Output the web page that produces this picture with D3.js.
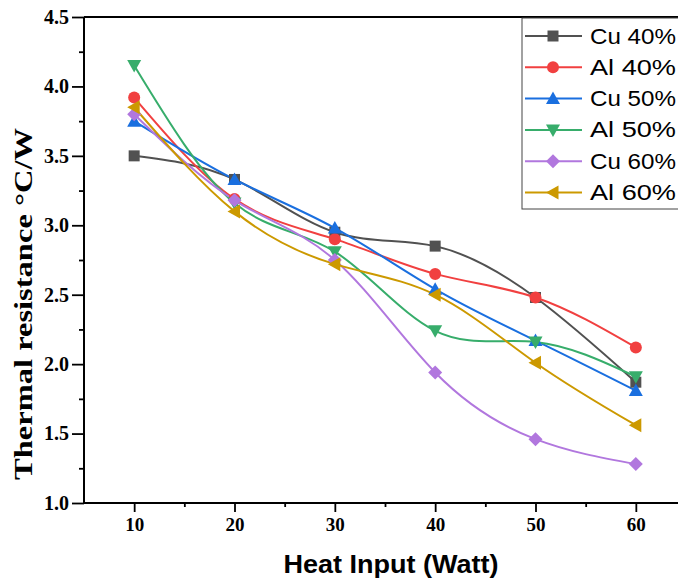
<!DOCTYPE html>
<html><head><meta charset="utf-8">
<script src="https://cdn.jsdelivr.net/npm/d3@7"></script>
<style>body{margin:0;background:#fff}svg{display:block}</style>
</head><body>
<svg id="c" width="678" height="585"></svg>
<script>
const heatInput = [10, 20, 30, 40, 50, 60];
const seriesNames = ["Cu 40%", "Al 40%", "Cu 50%", "Al 50%", "Cu 60%", "Al 60%"];
const cu40 = [3.50, 3.33, 2.95, 2.85, 2.48, 1.87];
const al40 = [3.92, 3.19, 2.90, 2.65, 2.48, 2.12];
const cu50 = [3.75, 3.33, 2.98, 2.54, 2.17, 1.81];
const al50 = [4.15, 3.16, 2.81, 2.24, 2.16, 1.91];
const cu60 = [3.80, 3.18, 2.75, 1.94, 1.46, 1.28];
const al60 = [3.85, 3.10, 2.72, 2.50, 2.01, 1.56];
const xTicks = [10, 20, 30, 40, 50, 60];
const yTicks = [1.0, 1.5, 2.0, 2.5, 3.0, 3.5, 4.0, 4.5];

const seriesValues = [cu40, al40, cu50, al50, cu60, al60];
const colors = ["#515151", "#F14040", "#1A6FDF", "#37AD6B", "#B177DE", "#CC9900"];
const symbols = ["square", "circle", "up", "down", "diamond", "left"];

const svg = d3.select("#c");
const x = d3.scaleLinear().domain([5, 65]).range([84, 686]);
const y = d3.scaleLinear().domain([1, 4.5]).range([503, 17]);

// Axes
const gx = svg.append("g").attr("transform", "translate(0,503)");
gx.call(d3.axisBottom(x).tickValues(d3.range(15, 65, 10)).tickSize(4).tickFormat(""));
gx.call(g => g.select(".domain").remove());
const gx2 = svg.append("g").attr("transform", "translate(0,503)")
  .call(d3.axisBottom(x).tickValues(xTicks).tickSize(9).tickPadding(6).tickFormat(d3.format("d")));
gx2.selectAll("text").attr("font-family", "'Liberation Serif','Times New Roman',serif")
  .attr("font-weight", "bold").attr("font-size", 19).attr("fill", "#000");

const gy = svg.append("g").attr("transform", "translate(84,0)");
gy.call(d3.axisLeft(y).tickValues(d3.range(1.25, 4.5, 0.5)).tickSize(5).tickFormat(""));
gy.call(g => g.select(".domain").remove());
const gy2 = svg.append("g").attr("transform", "translate(84,0)")
  .call(d3.axisLeft(y).tickValues(yTicks).tickSize(12).tickPadding(3).tickFormat(d3.format(".1f")));
gy2.selectAll("text").attr("font-family", "'Liberation Serif','Times New Roman',serif")
  .attr("font-weight", "bold").attr("font-size", 20).attr("fill", "#000");

svg.selectAll(".tick line").attr("stroke", "#000").attr("stroke-width", 1.8);
svg.selectAll(".domain").attr("stroke", "#000").attr("stroke-width", 2);
gx2.select(".domain").attr("d", "M84,0H686");
gy2.select(".domain").attr("d", "M0,17V503");
// top border
svg.append("line").attr("x1", 84).attr("x2", 686).attr("y1", y(4.5)).attr("y2", y(4.5))
  .attr("stroke", "#000").attr("stroke-width", 2);

// titles
svg.append("text").attr("x", 391).attr("y", 573).attr("text-anchor", "middle")
  .attr("font-family", "'Liberation Sans',Arial,sans-serif").attr("font-weight", "bold")
  .attr("font-size", 25).attr("textLength", 215).attr("lengthAdjust", "spacingAndGlyphs")
  .text("Heat Input (Watt)");
svg.append("text").attr("transform", "translate(32,304) rotate(-90)").attr("text-anchor", "middle")
  .attr("font-family", "'Liberation Serif','Times New Roman',serif").attr("font-weight", "bold")
  .attr("font-size", 26).attr("textLength", 352).attr("lengthAdjust", "spacingAndGlyphs")
  .text("Thermal resistance °C/W");

function symPath(kind, cx, cy) {
  const s = 6;
  switch (kind) {
    case "square": return `M${cx-5.5},${cy-5.5}h11v11h-11z`;
    case "circle": return `M${cx-s},${cy}a${s},${s} 0 1,0 ${2*s},0a${s},${s} 0 1,0 ${-2*s},0z`;
    case "up": return `M${cx},${cy-7}L${cx+7},${cy+5.5}L${cx-7},${cy+5.5}z`;
    case "down": return `M${cx},${cy+7}L${cx+7},${cy-5.5}L${cx-7},${cy-5.5}z`;
    case "diamond": return `M${cx},${cy-7}L${cx+7},${cy}L${cx},${cy+7}L${cx-7},${cy}z`;
    case "left": return `M${cx-7},${cy}L${cx+5.5},${cy-7}L${cx+5.5},${cy+7}z`;
  }
}

const line = d3.line().x(d => x(d[0])).y(d => y(d[1])).curve(d3.curveNatural);
const plot = svg.append("g");
seriesValues.forEach((vals, i) => {
  const pts = heatInput.map((h, j) => [h, vals[j]]);
  plot.append("path").attr("d", line(pts)).attr("fill", "none")
    .attr("stroke", colors[i]).attr("stroke-width", 2);
});
seriesValues.forEach((vals, i) => {
  heatInput.forEach((h, j) => {
    plot.append("path").attr("d", symPath(symbols[i], x(h), y(vals[j]))).attr("fill", colors[i]);
  });
});

// legend
const lg = svg.append("g");
lg.append("rect").attr("x", 522).attr("y", 18).attr("width", 170).attr("height", 191)
  .attr("fill", "#fff").attr("stroke", "#444").attr("stroke-width", 1);
seriesNames.forEach((name, i) => {
  const cy = 36 + i * 31.3;
  lg.append("line").attr("x1", 525).attr("x2", 582).attr("y1", cy).attr("y2", cy)
    .attr("stroke", colors[i]).attr("stroke-width", 2);
  lg.append("path").attr("d", symPath(symbols[i], 553, cy)).attr("fill", colors[i]);
  lg.append("text").attr("x", 590).attr("y", cy + 7.5)
    .attr("font-family", "'Liberation Sans',Arial,sans-serif").attr("font-size", 22)
    .attr("textLength", 86).attr("lengthAdjust", "spacingAndGlyphs")
    .attr("fill", "#000").text(name);
});
</script>
</body></html>
